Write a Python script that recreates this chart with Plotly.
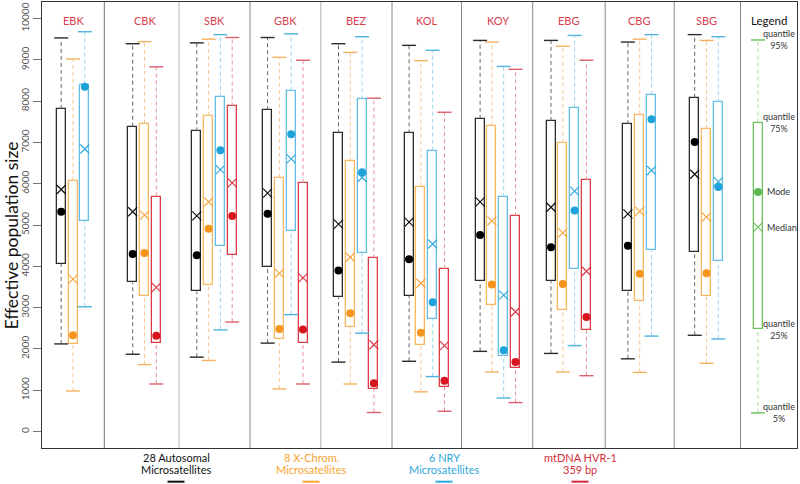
import plotly.graph_objects as go

# ---------------- data ----------------
populations = ["EBK", "CBK", "SBK", "GBK", "BEZ", "KOL", "KOY", "EBG", "CBG", "SBG"]
marker_lines_1 = ["28 Autosomal", "8 X-Chrom.", "6 NRY", "mtDNA HVR-1"]
marker_lines_2 = ["Microsatellites", "Microsatellites", "Microsatellites", "359 bp"]

# 28 autosomal microsatellites (black)
auto_q95 = [9530, 9390, 9410, 9540, 9390, 9350, 9470, 9470, 9430, 9610]
auto_q75 = [7810, 7380, 7270, 7780, 7220, 7220, 7570, 7520, 7440, 8080]
auto_median = [5860, 5320, 5220, 5770, 5020, 5070, 5560, 5430, 5270, 6230]
auto_mode = [5320, 4300, 4270, 5270, 3900, 4170, 4760, 4460, 4500, 7010]
auto_q25 = [4060, 3610, 3390, 3980, 3250, 3290, 3650, 3640, 3400, 4340]
auto_q05 = [2120, 1870, 1800, 2140, 1680, 1700, 1940, 1890, 1760, 2330]

# 8 X-chromosome microsatellites (orange)
xchr_q95 = [9020, 9440, 9500, 9060, 9180, 8980, 9430, 9330, 9500, 9470]
xchr_q75 = [6070, 7450, 7640, 6140, 6540, 5930, 7390, 6990, 7670, 7330]
xchr_median = [3690, 5240, 5560, 3830, 4220, 3590, 5100, 4810, 5330, 5190]
xchr_mode = [2330, 4320, 4910, 2480, 2860, 2390, 3560, 3570, 3820, 3830]
xchr_q25 = [2110, 3280, 3550, 2240, 2530, 2090, 3060, 2940, 3160, 3290]
xchr_q05 = [980, 1620, 1720, 1030, 1150, 960, 1440, 1440, 1430, 1650]

# 6 NRY microsatellites (blue)
nry_q95 = [9680, None, 9610, 9630, 9560, 9230, 8840, 9590, 9610, 9560]
nry_q75 = [8400, None, 8100, 8250, 8040, 6800, 5680, 7840, 8160, 7970]
nry_median = [6840, None, 6340, 6600, 6150, 4540, 3300, 5820, 6320, 6050]
nry_mode = [8350, None, 6810, 7200, 6280, 3130, 1970, 5350, 7560, 5920]
nry_q25 = [5100, None, 4490, 4860, 4320, 2730, 1830, 3940, 4390, 4120]
nry_q05 = [3020, None, 2460, 2830, 2380, 1330, 810, 2080, 2310, 2240]

# mtDNA HVR-1 359 bp (red)
mt_q95 = [None, 8830, 9540, 8990, 8070, 7730, 8770, 8990, None, None]
mt_q75 = [None, 5690, 7870, 6020, 4190, 3930, 5210, 6080, None, None]
mt_median = [None, 3490, 6020, 3720, 2100, 2080, 2900, 3880, None, None]
mt_mode = [None, 2320, 5220, 2470, 1170, 1230, 1680, 2770, None, None]
mt_q25 = [None, 2140, 4270, 2140, 1030, 1080, 1530, 2460, None, None]
mt_q05 = [None, 1150, 2650, 1150, 460, 490, 700, 1350, None, None]

# legend example box (green)
legend_stats = ["quantile<br>95%", "quantile<br>75%", "Mode", "Median", "quantile<br>25%", "quantile<br>5%"]
legend_values = [9480, 7480, 5800, 4950, 2470, 450]

y_ticks = list(range(0, 10001, 1000))
y_tick_labels = [str(v) for v in y_ticks]

# ---------------- layout constants ----------------
X0, X1 = 42, 797
group_centers = [73, 144.5, 214.5, 285.3, 356.2, 426.8, 497.8, 568.7, 639.7, 706.5]
separators = [104.3, 179, 250, 320.7, 392, 461.5, 532.7, 605.2, 674.2, 740.5]
sep_colors = ["#707070", "#c4c4c4", "#8a8a8a", "#c4c4c4", "#8a8a8a", "#8a8a8a",
              "#8a8a8a", "#8a8a8a", "#8a8a8a", "#8a8a8a"]
legend_center = 758
slot_step = 11.8
box_w = 9

styles = [
    dict(box="#2b2b2b", whisk="#666666", cap="#2b2b2b", dot="#000000", med="#111111"),
    dict(box="#F8B862", whisk="#F8C890", cap="#F6B060", dot="#F7941D", med="#F5A53F"),
    dict(box="#63BEE4", whisk="#9AD3EC", cap="#4FB5E0", dot="#1FA2DA", med="#35ABDD"),
    dict(box="#DC3C48", whisk="#EC9098", cap="#D9606A", dot="#D7151F", med="#D83A46"),
]
label_colors = ["#111111", "#F6A432", "#2EA8DC", "#D42C3A"]
label_x = [176, 311, 444, 580]

series = [
    (auto_q05, auto_q25, auto_median, auto_mode, auto_q75, auto_q95),
    (xchr_q05, xchr_q25, xchr_median, xchr_mode, xchr_q75, xchr_q95),
    (nry_q05, nry_q25, nry_median, nry_mode, nry_q75, nry_q95),
    (mt_q05, mt_q25, mt_median, mt_mode, mt_q75, mt_q95),
]

# x position of every box from the groups' centres and which series are present
positions = [[None] * len(populations) for _ in series]
for i in range(len(populations)):
    present = [k for k, s in enumerate(series) if s[1][i] is not None]
    n = len(present)
    for r, k in enumerate(present):
        positions[k][i] = group_centers[i] + (r - (n - 1) / 2) * slot_step

fig = go.Figure()


def add_boxes(xs, q05, q25, med, mode, q75, q95, st):
    idx = [i for i in range(len(xs)) if xs[i] is not None and q25[i] is not None]
    wx, wy = [], []
    for i in idx:
        wx += [xs[i], xs[i], None, xs[i], xs[i], None]
        wy += [q75[i], q95[i], None, q05[i], q25[i], None]
    fig.add_trace(go.Scatter(x=wx, y=wy, mode="lines", hoverinfo="skip",
                             line=dict(color=st["whisk"], width=1, dash="4px,3px")))
    fig.add_trace(go.Bar(x=[xs[i] for i in idx], base=[q25[i] for i in idx],
                         y=[q75[i] - q25[i] for i in idx], width=box_w,
                         marker=dict(color="white", line=dict(color=st["box"], width=1.3)),
                         hoverinfo="skip"))
    fig.add_trace(go.Scatter(x=[xs[i] for i in idx] * 2,
                             y=[q95[i] for i in idx] + [q05[i] for i in idx],
                             mode="markers", hoverinfo="skip",
                             marker=dict(symbol="line-ew", size=10, color=st["cap"],
                                         line=dict(color=st["cap"], width=1.4))))
    fig.add_trace(go.Scatter(x=[xs[i] for i in idx], y=[med[i] for i in idx],
                             mode="markers", hoverinfo="skip",
                             marker=dict(symbol="x-thin-open", size=9, color=st["med"],
                                         line=dict(color=st["med"], width=1.2))))
    fig.add_trace(go.Scatter(x=[xs[i] for i in idx], y=[mode[i] for i in idx],
                             mode="markers", hoverinfo="skip",
                             marker=dict(symbol="circle", size=8, color=st["dot"])))


for k, s in enumerate(series):
    add_boxes(positions[k], *s, styles[k])

# legend example box
green = dict(box="#6CBF5C", whisk="#A8D99C", cap="#6CBF5C", dot="#5DB64E", med="#6CBF5C")
lv = legend_values
add_boxes([legend_center], [lv[5]], [lv[4]], [lv[3]], [lv[2]], [lv[1]], [lv[0]], green)

shapes = []
for xs, c in zip(separators, sep_colors):
    shapes.append(dict(type="line", xref="x", yref="paper", x0=xs, x1=xs, y0=0, y1=1,
                       line=dict(color=c, width=1.3 if c == "#c4c4c4" else 1)))

annotations = []
FONT = "Lato, 'Open Sans', sans-serif"
for name, cx in zip(populations, group_centers):
    annotations.append(dict(x=cx, y=0.977, xref="x", yref="paper", text=name, showarrow=False,
                            font=dict(family=FONT, size=11, color="#D8404C")))
annotations.append(dict(x=768.5, y=0.977, xref="x", yref="paper", text="Legend", showarrow=False,
                        font=dict(family=FONT, size=11.5, color="#111111")))
for text, val in zip(legend_stats, legend_values):
    if "quantile" in text:
        annotations.append(dict(x=779, y=val, xref="x", yref="y", text=text, showarrow=False,
                                xanchor="center", align="center",
                                font=dict(family=FONT, size=9, color="#333333")))
    else:
        annotations.append(dict(x=765, y=val, xref="x", yref="y", text=text, showarrow=False,
                                xanchor="left",
                                font=dict(family=FONT, size=9, color="#333333")))

for t1, t2, cx, col in zip(marker_lines_1, marker_lines_2, label_x, label_colors):
    annotations.append(dict(x=cx, y=-0.022, xref="x", yref="paper", text=t1, showarrow=False,
                            yanchor="middle", font=dict(family=FONT, size=11, color=col)))
    annotations.append(dict(x=cx, y=-0.049, xref="x", yref="paper", text=t2, showarrow=False,
                            yanchor="middle", font=dict(family=FONT, size=11, color=col)))
    shapes.append(dict(type="line", xref="x", yref="paper", x0=cx - 8.5, x1=cx + 8.5,
                       y0=-0.0755, y1=-0.0755, line=dict(color=col, width=2)))

annotations.append(dict(x=-0.0405, y=0.478, xref="paper", yref="paper",
                        xanchor="center", yanchor="middle",
                        text="Effective population size", textangle=-90, showarrow=False,
                        font=dict(family=FONT, size=17.5, color="#111111")))

fig.update_layout(
    width=800, height=484,
    margin=dict(l=42, r=3, t=2, b=36),
    paper_bgcolor="white", plot_bgcolor="white",
    showlegend=False, barmode="overlay", bargap=0,
    shapes=shapes, annotations=annotations,
    xaxis=dict(range=[X0, X1], showgrid=False, zeroline=False, showticklabels=False,
               ticks="", showline=True, mirror=True, linecolor="#333333", linewidth=1.3,
               automargin=False),
    yaxis=dict(range=[-400, 10400], tickvals=y_ticks, ticktext=y_tick_labels,
               ticks="outside", ticklen=8, automargin=False,
               tickcolor="#777777", tickangle=-90, showgrid=False, zeroline=False,
               showline=True, mirror=True, linecolor="#333333", linewidth=1.3,
               tickfont=dict(family=FONT, size=10, color="#555555")),
)

fig.write_html("out.html", config={"displayModeBar": False},
               post_script="document.body.style.margin='0';document.body.style.padding='0';"
                           "document.documentElement.style.overflow='hidden';")
